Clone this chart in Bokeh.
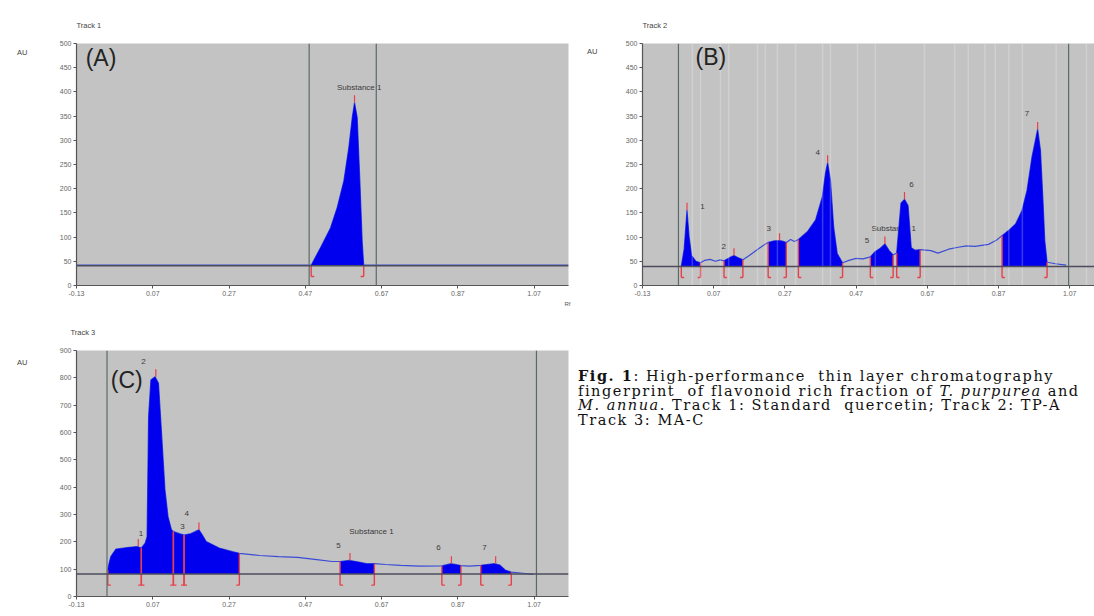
import numpy as np
from bokeh.plotting import figure
from bokeh.models import Label, FixedTicker, Div, Range1d, Span, Title
from bokeh.layouts import row, column
from bokeh.embed import file_html
from bokeh.resources import INLINE

# ---------------- data ----------------
RF_TICKS = [-0.13, 0.07, 0.27, 0.47, 0.67, 0.87, 1.07]
RF_TICK_LABELS = ["-0.13", "0.07", "0.27", "0.47", "0.67", "0.87", "1.07"]
AU_TICKS_AB = [0, 50, 100, 150, 200, 250, 300, 350, 400, 450, 500]
AU_TICKS_C = [0, 100, 200, 300, 400, 500, 600, 700, 800, 900]

# Track 1 : standard quercetin
t1_rf = [-0.13, 0.4853, 0.5097, 0.536, 0.5535, 0.571, 0.584, 0.593, 0.599,
         0.606, 0.613, 0.619, 0.623, 1.16]
t1_au = [42, 42, 78, 119, 161, 216, 285, 347, 378, 347, 216, 92, 42, 42]
t1_baseline = 41
t1_win_start = [0.4853]
t1_win_end = [0.623]
t1_peak_rf = [0.599]
t1_peak_au = [378]
t1_marks = [0.48, 0.656]
t1_labels = ["Substance 1"]
t1_label_rf = [0.553]
t1_label_au = [409]

# Track 2 : TP-A
t2_rf = [-0.021, -0.013, -0.005, 0.001, 0.008, 0.020, 0.033,
         0.045, 0.060, 0.075, 0.088, 0.099,
         0.113, 0.127, 0.140, 0.152,
         0.170, 0.194, 0.212, 0.223,
         0.238, 0.255, 0.266, 0.274,
         0.286, 0.297, 0.308,
         0.333, 0.356, 0.375, 0.384, 0.390, 0.398, 0.407, 0.417, 0.432,
         0.450, 0.470, 0.490, 0.510,
         0.522, 0.538, 0.551, 0.563, 0.574,
         0.584, 0.596, 0.606, 0.616, 0.625, 0.636, 0.650,
         0.680, 0.700, 0.730, 0.757, 0.780, 0.804, 0.842, 0.865, 0.880,
         0.899, 0.918, 0.936, 0.950, 0.964, 0.980, 0.988, 0.995, 1.000, 1.0065,
         1.030, 1.060]
t2_au = [40, 75, 156, 100, 62, 50, 47,
         52, 54, 50, 53, 51,
         57, 62, 57, 53,
         62, 75, 84, 89,
         92, 93, 91, 89,
         95, 91, 95,
         111, 135, 183, 232, 254, 218, 121, 66, 47,
         52, 56, 55, 59,
         69, 77, 86, 72, 63,
         67, 170, 178, 165, 78, 73, 74,
         72, 67, 75, 79, 82, 81, 85, 94, 103,
         114, 127, 155, 196, 265, 323, 279, 175, 93, 48,
         45, 42]
t2_baseline = 39
t2_win_start = [-0.021, 0.099, 0.223, 0.308, 0.510, 0.584, 0.880]
t2_win_end = [0.033, 0.152, 0.274, 0.432, 0.574, 0.650, 1.0065]
t2_peak_rf = [-0.005, 0.127, 0.255, 0.390, 0.551, 0.606, 0.980]
t2_peak_au = [156, 62, 93, 254, 86, 178, 323]
t2_marks = [-0.029, 1.067]
t2_labels = ["1", "2", "3", "4", "5", "6", "7", "Substance 1"]
t2_label_rf = [0.032, 0.092, 0.218, 0.356, 0.494, 0.619, 0.9435, 0.513]
t2_label_au = [163, 80, 118, 275, 94, 208, 355, 118]
t2_stripes = [0.010, 0.033, 0.089, 0.112, 0.193, 0.215, 0.249, 0.300, 0.376,
              0.398, 0.474, 0.524, 0.662, 0.747, 0.785, 0.832, 0.861, 0.899,
              0.937, 1.032, 1.117]

# Track 3 : MA-C
t3_rf = [-0.048, -0.044, -0.040, -0.027, 0.003, 0.029, 0.040,
         0.050, 0.055, 0.059, 0.065, 0.076, 0.085, 0.093, 0.102, 0.110, 0.119, 0.124,
         0.140, 0.152,
         0.170, 0.185, 0.191, 0.200, 0.210, 0.244, 0.279, 0.297,
         0.350, 0.400, 0.450, 0.500, 0.540,
         0.561, 0.585, 0.610, 0.630, 0.651,
         0.680, 0.720, 0.770,
         0.828, 0.852, 0.878,
         0.900,
         0.930, 0.946, 0.965, 0.980, 0.994, 1.010,
         1.040, 1.068]
t3_au = [97, 125, 146, 173, 179, 183, 177,
         195, 219, 658, 792, 804, 780, 598, 390, 292, 244, 238,
         230, 225,
         230, 240, 244, 225, 201, 177, 164, 158,
         150, 146, 143, 135, 128,
         128, 132, 126, 120, 120,
         117, 114, 111,
         112, 120, 113,
         111,
         114, 117, 120, 115, 97, 89,
         85, 81]
t3_baseline = 82
t3_win_start = [-0.048, 0.040, 0.124, 0.152, 0.561, 0.828, 0.930]
t3_win_end = [0.040, 0.124, 0.152, 0.297, 0.651, 0.878, 1.010]
t3_peak_rf = [0.032, 0.078, 0.191, 0.587, 0.853, 0.969]
t3_peak_au = [183, 804, 244, 132, 120, 120]
t3_marks = [-0.05, 1.076]
t3_labels = ["1", "2", "3", "4", "5", "6", "7", "Substance 1"]
t3_label_rf = [0.033, 0.040, 0.142, 0.153, 0.551, 0.813, 0.934, 0.585]
t3_label_au = [232, 860, 256, 302, 187, 178, 178, 236]

# ---------------- styling ----------------
BG = "#c3c3c3"
FILL = "#0000ee"
CURVE = "#3a4cd6"
RED = "#e8404a"
TXT = "#3a3a3a"
SANS = "Liberation Sans"


def make_panel(width, height, x_end, y_end, au_ticks, b_left, b_right, b_top, b_bottom,
               track, track_offset=0, rf_label=False):
    p = figure(width=width, height=height, output_backend="svg", toolbar_location=None,
               x_range=Range1d(-0.13, x_end), y_range=Range1d(0, y_end),
               min_border_left=b_left, min_border_right=b_right,
               min_border_top=b_top, min_border_bottom=b_bottom)
    p.background_fill_color = BG
    p.border_fill_color = "white"
    p.outline_line_color = None
    p.grid.visible = False
    p.xaxis.ticker = FixedTicker(ticks=RF_TICKS)
    p.xaxis.major_label_overrides = dict(zip(RF_TICKS, RF_TICK_LABELS))
    p.yaxis.ticker = FixedTicker(ticks=au_ticks)
    for ax in (p.xaxis, p.yaxis):
        ax.axis_line_color = "#555555"
        ax.axis_line_width = 1.2
        ax.major_tick_line_color = "#555555"
        ax.major_tick_out = 3
        ax.major_tick_in = 0
        ax.minor_tick_line_color = None
        ax.major_label_text_font = SANS
        ax.major_label_text_font_size = "7px"
        ax.major_label_text_color = "#666666"
        ax.major_label_standoff = 2
    p.title.text = track
    p.title.align = "left"
    p.title.offset = track_offset
    p.title.text_font = SANS
    p.title.text_font_size = "7.5px"
    p.title.text_font_style = "normal"
    p.title.text_color = "#444444"
    p.title.standoff = 27
    if rf_label:
        p.add_layout(Title(text="Rf", align="right", text_font=SANS, text_font_size="6px",
                           text_font_style="normal", text_color="#555555", standoff=0,
                           offset=-2), "below")
    return p


def draw_track(p, rf, au, base, w_start, w_end, peak_rf, peak_au, marks,
               labels, lab_rf, lab_au, y_end):
    rf = np.asarray(rf, float)
    au = np.asarray(au, float)
    dy = y_end * 0.045
    foot = 0.008
    for m in marks:
        p.add_layout(Span(location=m, dimension="height", line_color="#5c6a6a",
                          line_width=1.2))
    p.add_layout(Span(location=base, dimension="width", line_color="#4c4c5c",
                      line_width=1.5))
    p.text(x=lab_rf, y=lab_au, text=labels, text_font_size="8px",
           text_color=TXT, text_baseline="middle", text_align="left",
           text_font={"value": SANS})
    p.line(rf, au, line_color=CURVE, line_width=1.2)
    for s, e in zip(w_start, w_end):
        m = (rf >= s - 1e-9) & (rf <= e + 1e-9)
        p.varea(x=rf[m], y1=base, y2=au[m], fill_color=FILL)
    # integration boundary markers
    xs0, ys0, xs1, ys1 = [], [], [], []
    for s in w_start:
        top = float(np.interp(s, rf, au))
        xs0 += [s, s]; ys0 += [base - dy, base - dy]
        xs1 += [s, s + foot]; ys1 += [top, base - dy]
    for e in w_end:
        top = float(np.interp(e, rf, au))
        xs0 += [e, e - foot]; ys0 += [base - dy, base - dy]
        xs1 += [e, e]; ys1 += [top, base - dy]
    p.segment(x0=xs0, y0=ys0, x1=xs1, y1=ys1, line_color=RED, line_width=1.4)
    # peak-top ticks
    p.segment(x0=peak_rf, y0=peak_au, x1=peak_rf,
              y1=[a + y_end * 0.03 for a in peak_au], line_color=RED, line_width=1.2)


def add_label(p, x, y, text, size="23px", color="#222222"):
    p.add_layout(Label(x=x, y=y, text=text, text_font=SANS, text_font_size=size,
                       text_color=color, text_baseline="middle", text_align="left"))


def au_div(width, height, pad_left, pad_top):
    html = ('<div style="font-family:\'Liberation Sans\',sans-serif;font-size:7.5px;'
            'line-height:10px;color:#444;padding-left:%dpx;padding-top:%dpx;">AU</div>'
            % (pad_left, pad_top))
    return Div(text=html, width=width, height=height, margin=0)


# ---------------- panel A ----------------
pa = make_panel(547, 308, 1.16, 500, AU_TICKS_AB, 48, 7, 43, 23, "Track 1", rf_label=True)
draw_track(pa, t1_rf, t1_au, t1_baseline, t1_win_start, t1_win_end,
           t1_peak_rf, t1_peak_au, t1_marks, t1_labels, t1_label_rf, t1_label_au, 500)
add_label(pa, -0.106, 470, "(A)")

# ---------------- panel B ----------------
pb = make_panel(489, 308, 1.1397, 500, AU_TICKS_AB, 37, 0, 43, 23, "Track 2")
for s in t2_stripes:
    pb.add_layout(Span(location=s, dimension="height", line_color="white",
                       line_alpha=0.22, line_width=1.5))
draw_track(pb, t2_rf, t2_au, t2_baseline, t2_win_start, t2_win_end,
           t2_peak_rf, t2_peak_au, t2_marks, t2_labels, t2_label_rf, t2_label_au, 500)
add_label(pb, 0.019, 473, "(B)")

# ---------------- panel C ----------------
pc = make_panel(547, 308, 1.16, 900, AU_TICKS_C, 48, 7, 42, 20, "Track 3", track_offset=-6)
draw_track(pc, t3_rf, t3_au, t3_baseline, t3_win_start, t3_win_end,
           t3_peak_rf, t3_peak_au, t3_marks, t3_labels, t3_label_rf, t3_label_au, 900)
add_label(pc, -0.04, 791, "(C)")

# ---------------- caption ----------------
caption = (
    '<div style="font-family:\'DejaVu Serif\',serif;font-size:14.5px;line-height:14.6px;'
    'color:#111;white-space:nowrap;width:516px;padding-top:61px;'
    'margin-left:3px;letter-spacing:1.55px;">'
    '<b>Fig. 1</b>: High-performance&nbsp; thin layer chromatography<br>'
    'fingerprint&nbsp; of flavonoid rich fraction of <i>T. purpurea</i> and<br>'
    '<i>M. annua</i>. Track 1: Standard&nbsp; quercetin; Track 2: TP-A<br>'
    'Track 3: MA-C</div>'
)
cap = Div(text=caption, width=519, height=308, margin=0)

left = column(row(au_div(28, 308, 17, 48), pa), row(au_div(28, 308, 17, 50), pc))
right = column(row(au_div(30, 308, 12, 47), pb), cap)
layout = row(left, right)
open("out.html", "w").write(file_html(layout, INLINE))
